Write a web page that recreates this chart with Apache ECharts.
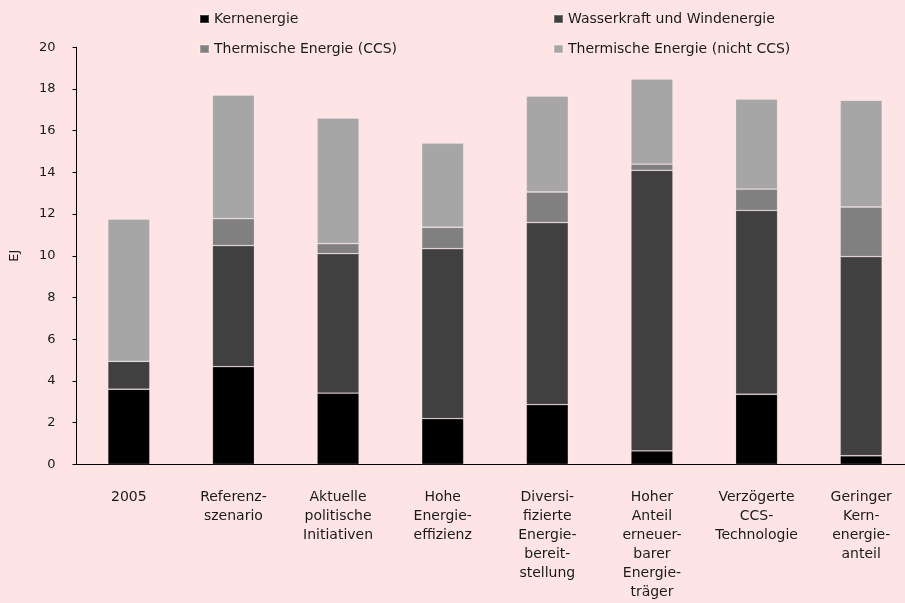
<!DOCTYPE html>
<html>
<head>
<meta charset="utf-8">
<script src="https://cdn.jsdelivr.net/npm/echarts@6/dist/echarts.min.js"></script>
<style>
  html, body { margin: 0; padding: 0; background: #ffe4e5; }
  #chart { width: 905px; height: 603px; }
</style>
</head>
<body>
<div id="chart"></div>
<script>
var categories = [
    '2005',
    'Referenz-\nszenario',
    'Aktuelle\npolitische\nInitiativen',
    'Hohe\nEnergie-\neffizienz',
    'Diversi-\nfizierte\nEnergie-\nbereit-\nstellung',
    'Hoher\nAnteil\nerneuer-\nbarer\nEnergie-\nträger',
    'Verzögerte\nCCS-\nTechnologie',
    'Geringer\nKern-\nenergie-\nanteil'
];
var kernenergie   = [3.60, 4.68, 3.41, 2.19, 2.86, 0.64, 3.36, 0.41];
var wasserWind    = [1.34, 5.81, 6.69, 8.15, 8.73, 13.46, 8.82, 9.55];
var thermCCS      = [0.00, 1.29, 0.48, 1.03, 1.47, 0.30, 1.02, 2.38];
var thermNichtCCS = [6.82, 5.93, 6.03, 4.03, 4.60, 4.08, 4.32, 5.12];
var yTicks = [0, 2, 4, 6, 8, 10, 12, 14, 16, 18, 20];

var font = 'DejaVu Sans';
var textColor = '#1a1a1a';
var chart = echarts.init(document.getElementById('chart'));

function bar(name, data, color) {
    return {
        name: name,
        type: 'bar',
        stack: 'total',
        barWidth: 42,
        itemStyle: { color: color, borderColor: 'rgba(255,255,255,0.25)', borderWidth: 0.8 },
        emphasis: { disabled: true },
        data: data
    };
}

var legendText = { color: textColor, fontFamily: font, fontSize: 14 };

var option = {
    backgroundColor: '#ffe4e5',
    animation: false,
    legend: [
        {
            orient: 'vertical', left: 194, top: 7,
            itemWidth: 9, itemHeight: 8, itemGap: 16,
            icon: 'rect', textStyle: legendText,
            data: ['Kernenergie', 'Thermische Energie (CCS)']
        },
        {
            orient: 'vertical', left: 548, top: 7,
            itemWidth: 9, itemHeight: 8, itemGap: 16,
            icon: 'rect', textStyle: legendText,
            data: ['Wasserkraft und Windenergie', 'Thermische Energie (nicht CCS)']
        }
    ],
    grid: {
        left: 76.5, top: 47.3, width: 837, height: 417,
        outerBoundsMode: 'none'
    },
    xAxis: {
        type: 'category',
        data: categories,
        axisLine: { lineStyle: { color: '#000', width: 1 } },
        axisTick: { show: false },
        axisLabel: {
            interval: 0, margin: 24, lineHeight: 19,
            color: textColor, fontFamily: font, fontSize: 14
        }
    },
    yAxis: {
        type: 'value',
        min: yTicks[0], max: yTicks[yTicks.length - 1], interval: 2,
        name: 'EJ', nameLocation: 'middle', nameGap: 55,
        nameTextStyle: { color: textColor, fontFamily: font, fontSize: 13 },
        axisLine: { show: true, lineStyle: { color: '#000', width: 1 } },
        axisTick: { show: true, length: 4, lineStyle: { color: '#000' } },
        axisLabel: { margin: 21, color: textColor, fontFamily: font, fontSize: 13 },
        splitLine: { show: false }
    },
    series: [
        bar('Kernenergie', kernenergie, '#000000'),
        bar('Wasserkraft und Windenergie', wasserWind, '#404040'),
        bar('Thermische Energie (CCS)', thermCCS, '#808080'),
        bar('Thermische Energie (nicht CCS)', thermNichtCCS, '#a6a6a6')
    ]
};
chart.setOption(option);
</script>
</body>
</html>
